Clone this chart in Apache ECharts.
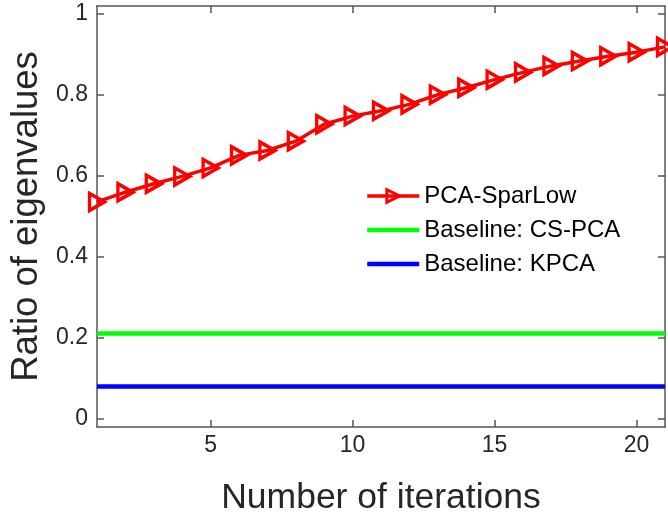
<!DOCTYPE html>
<html>
<head>
<meta charset="utf-8">
<script src="https://cdn.jsdelivr.net/npm/echarts@6/dist/echarts.min.js"></script>
<style>
html,body{margin:0;padding:0;background:#fff;}
#chart{width:668px;height:516px;}
</style>
</head>
<body>
<div id="chart"></div>
<script>
var iterations = [1,2,3,4,5,6,7,8,9,10,11,12,13,14,15,16,17,18,19,20,21];
var pcaSparLow = [0.536,0.560,0.581,0.599,0.620,0.651,0.663,0.686,0.728,0.748,0.761,0.777,0.801,0.818,0.838,0.856,0.872,0.884,0.896,0.906,0.919];
var csPca = [0.211,0.211,0.211,0.211,0.211,0.211,0.211,0.211,0.211,0.211,0.211,0.211,0.211,0.211,0.211,0.211,0.211,0.211,0.211,0.211,0.211];
var kpca = [0.080,0.080,0.080,0.080,0.080,0.080,0.080,0.080,0.080,0.080,0.080,0.080,0.080,0.080,0.080,0.080,0.080,0.080,0.080,0.080,0.080];
var xTicks = [5,10,15,20];
var yTicks = [0,0.2,0.4,0.6,0.8,1];
var seriesNames = ['PCA-SparLow','Baseline: CS-PCA','Baseline: KPCA'];
var xLabel = 'Number of iterations';
var yLabel = 'Ratio of eigenvalues';

function pairs(xs, ys){ return xs.map(function(x,i){ return [x, ys[i]]; }); }

var axisColor = '#555555';
var textColor = '#262626';
var font = 'Liberation Sans, Arial, Helvetica, sans-serif';

var chart = echarts.init(document.getElementById('chart'), null, {renderer:'canvas'});
chart.setOption({
  animation:false,
  backgroundColor:'#ffffff',
  grid:{left:97, top:6, right:3, bottom:89, containLabel:false, outerBoundsMode:'none'},
  legend:{
    orient:'vertical', left:365, top:184, padding:0,
    itemWidth:52, itemHeight:16, itemGap:10,
    data:[
      {name:seriesNames[0], lineStyle:{width:3.5, color:'#ff0000'}, itemStyle:{color:'rgba(255,255,255,0)', borderColor:'#ff0000', borderWidth:3}},
      {name:seriesNames[1], lineStyle:{width:4.5, color:'#00ff00'}, itemStyle:{opacity:0}},
      {name:seriesNames[2], lineStyle:{width:4.5, color:'#0000ff'}, itemStyle:{opacity:0}}
    ],
    textStyle:{fontFamily:font, fontSize:24, color:'#000', lineHeight:24}
  },
  xAxis:[{
    type:'value', min:1, max:21, position:'bottom',
    name:xLabel, nameLocation:'middle', nameGap:53,
    nameTextStyle:{fontFamily:font, fontSize:35.5, color:textColor},
    axisLine:{show:true, onZero:false, lineStyle:{color:axisColor, width:1.5}},
    axisTick:{show:true, inside:true, length:7, customValues:xTicks, lineStyle:{color:axisColor, width:1.5}},
    axisLabel:{customValues:xTicks, fontFamily:font, fontSize:23, color:textColor, margin:7},
    splitLine:{show:false}
  },{
    type:'value', min:1, max:21, position:'top',
    axisLine:{show:true, onZero:false, lineStyle:{color:axisColor, width:1.5}},
    axisTick:{show:true, inside:true, length:7, customValues:xTicks, lineStyle:{color:axisColor, width:1.5}},
    axisLabel:{show:false},
    splitLine:{show:false}
  }],
  yAxis:[{
    type:'value', min:-0.02, max:1.02, position:'left',
    name:yLabel, nameLocation:'middle', nameGap:52, nameRotate:90,
    nameTextStyle:{fontFamily:font, fontSize:36.5, color:textColor},
    axisLine:{show:true, onZero:false, lineStyle:{color:axisColor, width:1.5}},
    axisTick:{show:true, inside:true, length:7, customValues:yTicks, lineStyle:{color:axisColor, width:1.5}},
    axisLabel:{customValues:yTicks, fontFamily:font, fontSize:23, color:textColor, margin:9},
    splitLine:{show:false}
  },{
    type:'value', min:-0.02, max:1.02, position:'right',
    axisLine:{show:true, onZero:false, lineStyle:{color:axisColor, width:1.5}},
    axisTick:{show:true, inside:true, length:7, customValues:yTicks, lineStyle:{color:axisColor, width:1.5}},
    axisLabel:{show:false},
    splitLine:{show:false}
  }],
  series:[{
    name:seriesNames[0], type:'line', data:pairs(iterations, pcaSparLow),
    symbol:'triangle', symbolSize:[17,15], symbolRotate:-90, showAllSymbol:true,
    lineStyle:{color:'#ff0000', width:3.5},
    itemStyle:{color:'rgba(255,255,255,0)', borderColor:'#ff0000', borderWidth:3.5},
    z:5
  },{
    name:seriesNames[1], type:'line', data:pairs(iterations, csPca),
    symbol:'none', lineStyle:{color:'#00ff00', width:4.5}, itemStyle:{color:'#00ff00'}
  },{
    name:seriesNames[2], type:'line', data:pairs(iterations, kpca),
    symbol:'none', lineStyle:{color:'#0000ff', width:4.5}, itemStyle:{color:'#0000ff'}
  }]
});
</script>
</body>
</html>
